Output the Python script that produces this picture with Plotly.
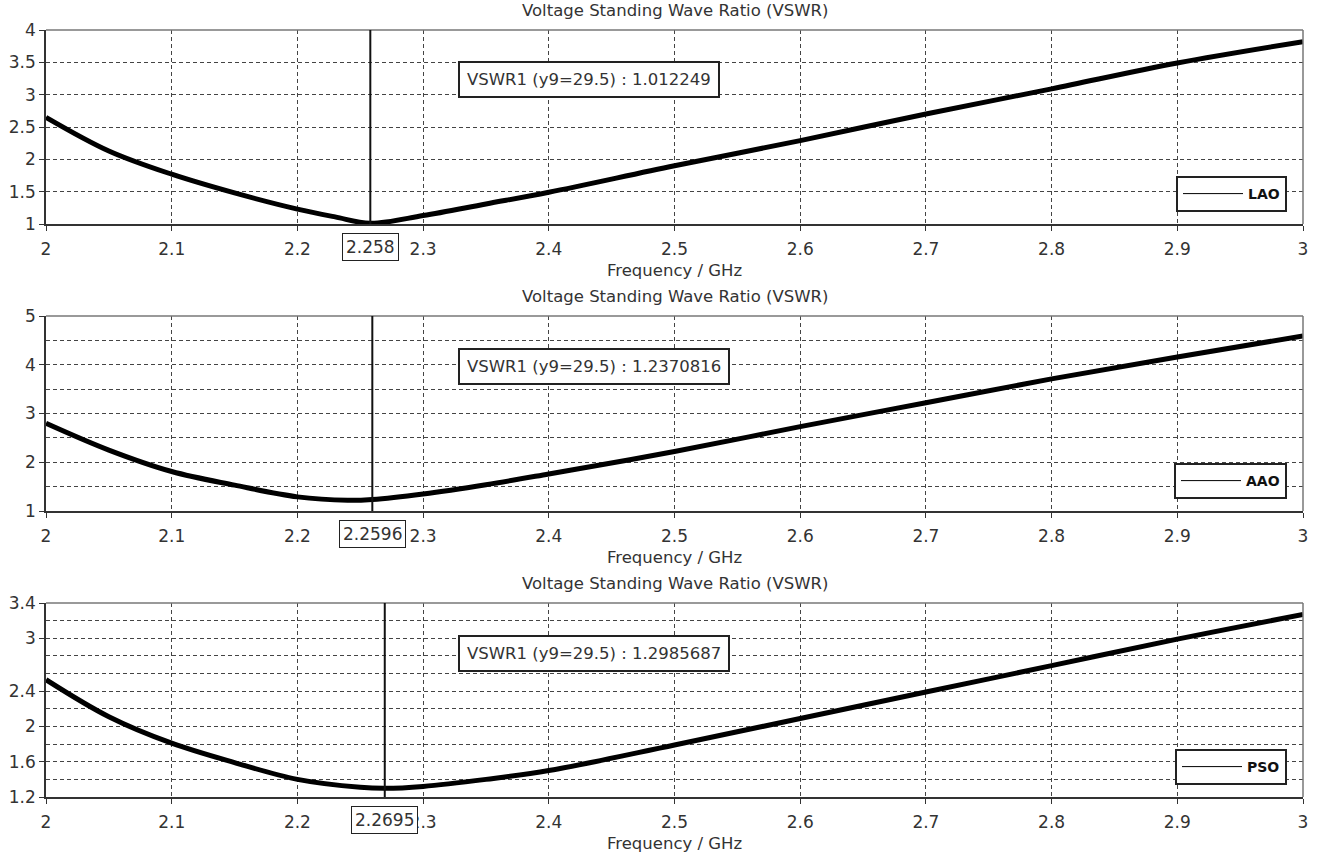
import plotly.graph_objects as go

# ---------------- data ----------------
freq_lao = [2.0, 2.05, 2.1, 2.15, 2.2, 2.23, 2.258, 2.3, 2.35, 2.4, 2.5, 2.6, 2.7, 2.8, 2.9, 3.0]
vswr_lao = [2.65, 2.13, 1.77, 1.48, 1.23, 1.11, 1.012, 1.13, 1.31, 1.49, 1.90, 2.29, 2.70, 3.09, 3.49, 3.82]

freq_aao = [2.0, 2.05, 2.1, 2.15, 2.2, 2.24, 2.2596, 2.3, 2.35, 2.4, 2.5, 2.6, 2.7, 2.8, 2.9, 3.0]
vswr_aao = [2.80, 2.25, 1.81, 1.53, 1.29, 1.22, 1.237, 1.35, 1.54, 1.76, 2.22, 2.73, 3.22, 3.71, 4.16, 4.59]

freq_pso = [2.0, 2.05, 2.1, 2.15, 2.2, 2.25, 2.2695, 2.3, 2.35, 2.4, 2.5, 2.6, 2.7, 2.8, 2.9, 3.0]
vswr_pso = [2.53, 2.11, 1.81, 1.59, 1.40, 1.31, 1.2986, 1.32, 1.40, 1.50, 1.79, 2.09, 2.39, 2.69, 2.99, 3.27]

series_names = ["LAO", "AAO", "PSO"]
marker_freq = [2.258, 2.2596, 2.2695]
marker_text = ["2.258", "2.2596", "2.2695"]
marker_value = ["1.012249", "1.2370816", "1.2985687"]

x_ticks = [2.0, 2.1, 2.2, 2.3, 2.4, 2.5, 2.6, 2.7, 2.8, 2.9, 3.0]
x_ticktext = ["2", "2.1", "2.2", "2.3", "2.4", "2.5", "2.6", "2.7", "2.8", "2.9", "3"]

y_ranges = [[1, 4], [1, 5], [1.2, 3.4]]
y_tickvals = [[1, 1.5, 2, 2.5, 3, 3.5, 4], [1, 2, 3, 4, 5], [1.2, 1.6, 2, 2.4, 3, 3.4]]
y_ticktext = [["1", "1.5", "2", "2.5", "3", "3.5", "4"], ["1", "2", "3", "4", "5"],
              ["1.2", "1.6", "2", "2.4", "3", "3.4"]]
y_minor = [0.5, 0.5, 0.2]

title_text = "Voltage Standing Wave Ratio (VSWR)"
xaxis_title = "Frequency / GHz"

# ---------------- layout geometry ----------------
W, H = 1319, 860
x_dom = [46 / W, 1303 / W]
panels_px = [(30, 224), (316, 511), (603, 797)]  # top, bottom in px
y_doms = [[1 - b / H, 1 - t / H] for t, b in panels_px]

FONT = "DejaVu Sans"
TXT = "#333333"
GRID = "#444444"

fig = go.Figure()
datasets = [(freq_lao, vswr_lao), (freq_aao, vswr_aao), (freq_pso, vswr_pso)]

annotations = []
shapes = []
layout = {}

for i, (fx, vy) in enumerate(datasets):
    n = "" if i == 0 else str(i + 1)
    xa, ya = "x" + n, "y" + n
    leg = "legend" + n
    fig.add_trace(go.Scatter(x=fx, y=vy, mode="lines", xaxis=xa, yaxis=ya,
                             line=dict(color="black", width=5, shape="spline", smoothing=1.0),
                             showlegend=False, hoverinfo="skip", cliponaxis=True))
    # legend entry (thin line like the reference)
    fig.add_trace(go.Scatter(x=[None], y=[None], mode="lines", xaxis=xa, yaxis=ya,
                             name=series_names[i], legend=leg,
                             line=dict(color="black", width=1)))

    layout["xaxis" + n] = dict(
        domain=x_dom, anchor=ya, range=[2, 3], tickvals=x_ticks, ticktext=x_ticktext,
        showgrid=True, gridcolor=GRID, griddash="4px,3px", gridwidth=1,
        showline=True, linecolor="#333333", linewidth=1.5,
        ticks="outside", ticklen=5, tickcolor="#333333", ticklabelstandoff=4,
        tickfont=dict(family=FONT, size=17, color=TXT), zeroline=False,
    )
    layout["yaxis" + n] = dict(
        domain=y_doms[i], anchor=xa, range=y_ranges[i],
        tickvals=y_tickvals[i], ticktext=y_ticktext[i],
        showgrid=True, gridcolor=GRID, griddash="4px,3px", gridwidth=1,
        minor=dict(dtick=y_minor[i], tick0=y_ranges[i][0], showgrid=True, gridcolor=GRID,
                   griddash="4px,3px", gridwidth=1, ticks=""),
        showline=True, linecolor="#333333", linewidth=1.5,
        ticks="outside", ticklen=5, tickcolor="#333333",
        tickfont=dict(family=FONT, size=17, color=TXT), zeroline=False,
    )
    t, b = panels_px[i]
    # top/right frame
    shapes.append(dict(type="line", xref=xa + " domain", yref=ya + " domain",
                       x0=0, x1=1, y0=1, y1=1, line=dict(color="#777777", width=1.5)))
    shapes.append(dict(type="line", xref=xa + " domain", yref=ya + " domain",
                       x0=1, x1=1, y0=0, y1=1, line=dict(color="#777777", width=1.5)))
    # marker vertical line
    shapes.append(dict(type="line", xref=xa, yref=ya + " domain",
                       x0=marker_freq[i], x1=marker_freq[i], y0=0, y1=1,
                       line=dict(color="#111111", width=2)))
    # title
    annotations.append(dict(text=title_text, xref="paper", yref="paper",
                            x=675 / W, y=1 - (t - 20) / H, xanchor="center", yanchor="middle",
                            showarrow=False, font=dict(family=FONT, size=16.5, color=TXT)))
    # x axis title
    annotations.append(dict(text=xaxis_title, xref="paper", yref="paper",
                            x=675 / W, y=1 - (b + 46) / H, xanchor="center", yanchor="middle",
                            showarrow=False, font=dict(family=FONT, size=16.5, color=TXT)))
    # marker x label box
    annotations.append(dict(text=marker_text[i], xref=xa, yref="paper",
                            x=marker_freq[i], y=1 - (b + 23) / H, xanchor="center", yanchor="middle",
                            showarrow=False, bgcolor="white", bordercolor="#222222", borderwidth=1,
                            borderpad=3, font=dict(family=FONT, size=17, color=TXT)))
    # readout box
    annotations.append(dict(text="VSWR1 (y9=29.5) : " + marker_value[i], xref="paper", yref="paper",
                            x=458 / W, y=1 - (t + 50) / H, xanchor="left", yanchor="middle",
                            showarrow=False, bgcolor="white", bordercolor="#222222", borderwidth=2,
                            borderpad=7, font=dict(family=FONT, size=16.5, color=TXT)))
    # legend
    layout[leg] = dict(x=1287 / W, y=1 - (b - 12) / H, xanchor="right", yanchor="bottom",
                       bgcolor="white", bordercolor="#222222", borderwidth=2,
                       font=dict(family=FONT, size=14, color="#111111", weight="bold"),
                       itemwidth=60)

fig.update_layout(
    width=W, height=H, margin=dict(l=0, r=0, t=0, b=0, autoexpand=False),
    paper_bgcolor="white", plot_bgcolor="white",
    annotations=annotations, shapes=shapes, **layout,
)

fig.write_html("out.html", config={"displayModeBar": False},
               post_script="document.body.style.margin='0';document.body.style.overflow='hidden';")
